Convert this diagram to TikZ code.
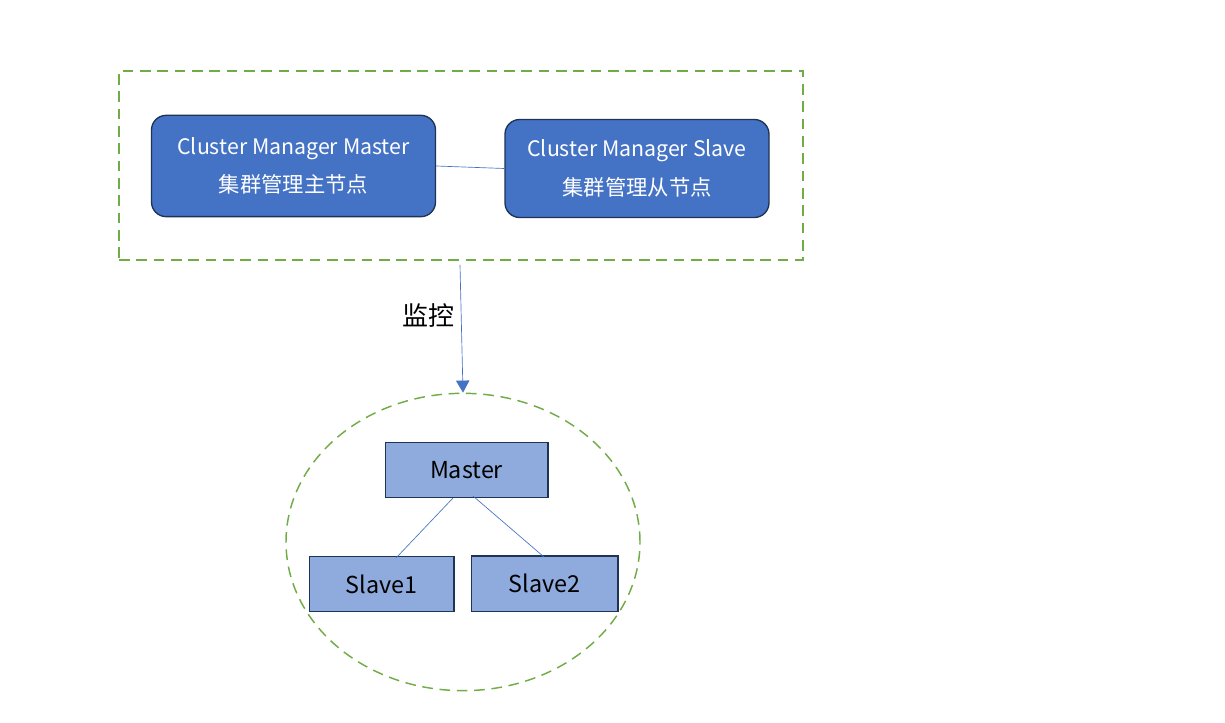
\documentclass[tikz,border=0pt]{standalone}
\usepackage{fontspec}
\setmainfont{Noto Sans CJK SC}
\usetikzlibrary{positioning}
\usetikzlibrary{arrows.meta, shapes.geometric}
\definecolor{darkblue}{HTML}{4472C4}
\definecolor{lightblue}{HTML}{8FAADC}
\definecolor{navy}{HTML}{1F3354}
\definecolor{grassgreen}{HTML}{70AD47}

\begin{document}
\begin{tikzpicture}[x=0.75pt, y=-0.75pt,
  mgr/.style = {draw=navy, line width=1pt, fill=darkblue, rounded corners=11pt, text=white, align=center, font=\fontsize{16}{29}\selectfont, minimum width=213pt, minimum height=76pt, inner sep=0pt},
  node/.style = {draw=navy, line width=1pt, fill=lightblue, font=\fontsize{17.5}{20}\selectfont, minimum height=41.5pt, inner sep=0pt},
  link/.style = {darkblue, line width=0.5pt},
  group/.style = {draw=grassgreen, line width=1.1pt, dash pattern=on 8pt off 5pt}]
\useasboundingbox (0,0) rectangle (1225,723);
% monitored cluster
\node[group, ellipse, minimum width=265.5pt, minimum height=223pt] (cluster) at (463,542) {};
\node[node, minimum width=122pt] (m) at (466.5,470) {Master};
\node[node, minimum width=108.5pt] (s1) at (381.5,584) {Slave1};
\node[node, minimum width=110pt] (s2) at (544.5,583.5) {Slave2};
\draw[link] (453,498) -- (396,558);
\draw[link] (473,496) -- (544,557);
% cluster manager
\node[group, rectangle, minimum width=513pt, minimum height=141.75pt] (mgrbox) at (461,165.5) {};
\node[mgr] (cmm) at (293.5,166) {Cluster Manager Master\\集群管理主节点};
\node[mgr, minimum width=198pt, minimum height=73.5pt] (cms) at (637,168.5) {Cluster Manager Slave\\集群管理从节点};
\draw[link] (cmm.east) -- (cms.west);
% monitoring
\draw[link, -{Triangle[length=9pt, width=10pt]}] (460,265) -- (cluster.north) node[midway, left=2pt, font=\fontsize{19.5}{22}\selectfont, text=black, yshift=10pt] {监控};
\end{tikzpicture}
\end{document}
